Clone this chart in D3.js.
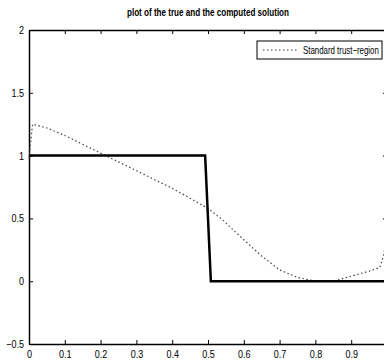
<!DOCTYPE html>
<html>
<head>
<meta charset="utf-8">
<script src="https://cdn.jsdelivr.net/npm/d3@7"></script>
<style>
  html, body { margin: 0; padding: 0; background: #fff; overflow: hidden; }
  svg { display: block; font-family: "Liberation Sans", Arial, sans-serif; }
</style>
</head>
<body>
<div id="host"></div>
<script>
// true solution (step)
const trueX = [0, 0.492, 0.508, 1];
const trueY = [1, 1, 0, 0];

// computed solution (standard trust-region)
const compX = [0, 0.01, 0.05, 0.1, 0.15, 0.2, 0.25, 0.3, 0.35, 0.4, 0.45, 0.5, 0.54, 0.6, 0.65, 0.7, 0.75, 0.8, 0.85, 0.9, 0.95, 0.98, 0.99, 1.0];
const compY = [0.98, 1.25, 1.22, 1.16, 1.09, 1.02, 0.95, 0.88, 0.81, 0.74, 0.66, 0.58, 0.49, 0.33, 0.2, 0.09, 0.03, 0.0, 0.0, 0.04, 0.08, 0.11, 0.2, 0.35];

const xTicks = [0, 0.1, 0.2, 0.3, 0.4, 0.5, 0.6, 0.7, 0.8, 0.9, 1];
const xTickLabels = ['0', '0.1', '0.2', '0.3', '0.4', '0.5', '0.6', '0.7', '0.8', '0.9', ''];
const yTicks = [-0.5, 0, 0.5, 1, 1.5, 2];
const yTickLabels = ['\u22120.5', '0', '0.5', '1', '1.5', '2'];

const title = 'plot of the true and the computed solution';
const legendLabel = 'Standard trust\u2212region';

const width = 384, height = 360;
const m = {left: 29, right: 387, top: 30, bottom: 344};

const svg = d3.select('#host').append('svg')
  .attr('width', width)
  .attr('height', height);

const x = d3.scaleLinear().domain([0, 1]).range([m.left, m.right]);
const y = d3.scaleLinear().domain([-0.5, 2]).range([m.bottom, m.top]);

// Achsen mit Ticks nach innen
const tickLen = 4;
const xAxisB = d3.axisBottom(x).tickValues(xTicks).tickSizeInner(-tickLen).tickSizeOuter(0)
  .tickPadding(6).tickFormat((d, i) => xTickLabels[i]);
const xAxisT = d3.axisTop(x).tickValues(xTicks).tickSizeInner(-tickLen).tickSizeOuter(0).tickFormat('');
const yAxisL = d3.axisLeft(y).tickValues(yTicks).tickSizeInner(-tickLen).tickSizeOuter(0)
  .tickPadding(5).tickFormat((d, i) => yTickLabels[i]);
const yAxisR = d3.axisRight(y).tickValues(yTicks).tickSizeInner(-tickLen).tickSizeOuter(0).tickFormat('');

function styleAxis(g) {
  g.select('.domain').attr('stroke', '#000').attr('stroke-width', 1.5);
  g.selectAll('.tick line').attr('stroke', '#000').attr('stroke-width', 1);
  g.selectAll('.tick text').attr('fill', '#000').attr('font-size', 11);
}

const axes = [
  svg.append('g').attr('transform', `translate(0,${m.bottom})`).call(xAxisB).call(styleAxis),
  svg.append('g').attr('transform', `translate(0,${m.top})`).call(xAxisT).call(styleAxis),
  svg.append('g').attr('transform', `translate(${m.left},0)`).call(yAxisL).call(styleAxis),
  svg.append('g').attr('transform', `translate(${m.right},0)`).call(yAxisR).call(styleAxis),
];

// Tick-Beschriftung etwas schmaler (Helvetica-Optik)
axes.forEach(a => a.selectAll('.tick text').each(function() {
  const len = this.getComputedTextLength();
  if (len > 0) d3.select(this).attr('textLength', len * 0.82).attr('lengthAdjust', 'spacingAndGlyphs');
}));

// Linien
const line = d3.line().x(d => x(d[0])).y(d => y(d[1]));

svg.append('path')
  .datum(compX.map((v, i) => [v, compY[i]]))
  .attr('d', line)
  .attr('fill', 'none')
  .attr('stroke', '#444')
  .attr('stroke-width', 1.2)
  .attr('stroke-dasharray', '1.5,2.5');

svg.append('path')
  .datum(trueX.map((v, i) => [v, trueY[i]]))
  .attr('d', line)
  .attr('fill', 'none')
  .attr('stroke', '#000')
  .attr('stroke-width', 2.5);

// Titel
svg.append('text')
  .attr('x', (m.left + m.right) / 2)
  .attr('y', 16)
  .attr('text-anchor', 'middle')
  .attr('font-size', 10.5)
  .attr('font-weight', 'bold')
  .attr('textLength', 162)
  .attr('lengthAdjust', 'spacingAndGlyphs')
  .text(title);

// Legende
const lg = svg.append('g');
lg.append('rect')
  .attr('x', 257).attr('y', 41).attr('width', 125).attr('height', 18)
  .attr('fill', '#fff').attr('stroke', '#000').attr('stroke-width', 1);
lg.append('line')
  .attr('x1', 263).attr('x2', 298).attr('y1', 50).attr('y2', 50)
  .attr('stroke', '#444').attr('stroke-width', 1.2).attr('stroke-dasharray', '1.5,2.5');
const lgText = lg.append('text')
  .attr('x', 0).attr('y', 0)
  .attr('font-size', 10.5)
  .text(legendLabel);
const lgLen = lgText.node().getComputedTextLength();
lgText.attr('transform', `translate(303,54) scale(${76 / lgLen},1)`);
</script>
</body>
</html>
